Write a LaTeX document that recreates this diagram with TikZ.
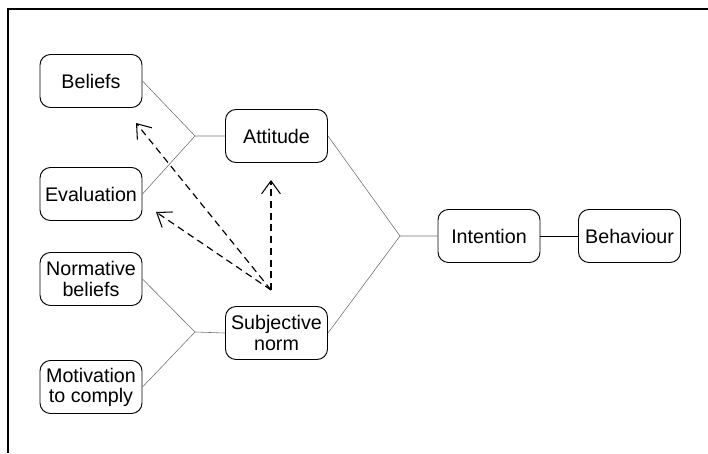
\documentclass[tikz,border=0pt]{standalone}
\usepackage{fontspec}
\setmainfont{Liberation Sans}
\usetikzlibrary{arrows.meta}
\begin{document}
\begin{tikzpicture}[x=0.03cm,y=-0.03cm,
  box/.style={draw,line width=0.8pt,rounded corners=9pt,minimum width=3.06cm,minimum height=1.59cm,
    align=center,inner sep=1pt,font=\fontsize{16.8}{17.2}\selectfont},
  link/.style={draw=black!55,line width=0.5pt},
  infl/.style={draw,line width=1pt,dashed,dash pattern=on 6pt off 4pt,-{Straight Barb[length=11pt,width=16pt,line width=0.9pt]}}]
\useasboundingbox (0,0) rectangle (708,453);
\coordinate (ftr) at (708,9);
\coordinate (ftl) at (8,9);
\coordinate (fbl) at (8,453);
\draw[line width=1.6pt] (ftr) -- (ftl) -- (fbl);
\node[box] (bel) at (91,81) {Beliefs};
\node[box] (eva) at (91,194) {Evaluation};
\node[box] (nor) at (91,279) {Normative\\beliefs};
\node[box] (mot) at (91,387) {Motivation\\to comply};
\node[box] (att) at (276.5,136) {Attitude};
\node[box] (sub) at (276.5,333) {Subjective\\norm};
\node[box] (int) at (489,236) {Intention};
\node[box] (beh) at (629.5,236) {Behaviour};
\coordinate (ja) at (195,136);
\coordinate (js) at (195,332);
\coordinate (ji) at (400,236);
\draw[link] (bel.east) -- (ja) -- (att.west);
\draw[link] (eva.east) -- (ja);
\draw[link] (nor.east) -- (js) -- (sub.west);
\draw[link] (mot.east) -- (js);
\draw[link] (att.east) -- (ji) -- (int.west);
\draw[link] (sub.east) -- (ji);
\draw[line width=0.6pt] (int.east) -- (beh.west);
\coordinate (src) at (271,290);
\coordinate (tb) at (136,123);
\coordinate (te) at (156,212);
\coordinate (ta) at (271,180);
\draw[infl] (src) -- (tb);
\draw[infl] (src) -- (te);
\draw[infl] (src) -- (ta);
\end{tikzpicture}
\end{document}
